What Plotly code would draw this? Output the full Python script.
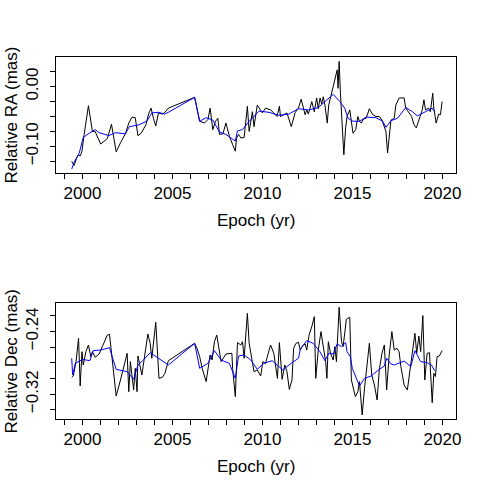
import plotly.graph_objects as go

# relative RA, raw points (yr, mas)
ra_epoch = [1999.40, 1999.53, 1999.67, 1999.78, 1999.87, 1999.97, 2000.09, 2000.33, 2000.55, 2000.70,
            2001.01, 2001.38, 2001.61, 2001.87, 2002.11, 2002.38, 2002.57, 2002.75, 2002.93, 2003.08,
            2003.26, 2003.52, 2003.67, 2003.81, 2003.94, 2004.07, 2004.22, 2004.44, 2004.58, 2004.77,
            2006.23, 2006.51, 2006.78, 2006.97, 2007.09, 2007.24, 2007.39, 2007.52, 2007.61, 2007.80,
            2007.97, 2008.16, 2008.34, 2008.49, 2008.56, 2008.67, 2008.80, 2008.98, 2009.16, 2009.26,
            2009.44, 2009.53, 2009.71, 2009.90, 2009.99, 2010.17, 2010.45, 2010.63, 2010.81, 2010.94,
            2011.00, 2011.18, 2011.36, 2011.60, 2011.82, 2012.00, 2012.15, 2012.37, 2012.46, 2012.55,
            2012.74, 2012.88, 2013.01, 2013.10, 2013.20, 2013.29, 2013.38, 2013.47, 2013.60, 2013.68,
            2013.80, 2013.93, 2014.07, 2014.15, 2014.20, 2014.26, 2014.33, 2014.39, 2014.52, 2014.62,
            2014.70, 2014.85, 2015.03, 2015.18, 2015.30, 2015.39, 2015.49, 2015.62, 2015.76, 2015.94,
            2016.13, 2016.31, 2016.49, 2016.64, 2016.77, 2016.86, 2016.95, 2017.04, 2017.14, 2017.32,
            2017.41, 2017.59, 2017.87, 2017.96, 2018.14, 2018.29, 2018.42, 2018.55, 2018.69, 2018.88,
            2018.97, 2019.06, 2019.24, 2019.33, 2019.46, 2019.52, 2019.65, 2019.79, 2019.89, 2019.98]
ra_mas = [-0.125, -0.132, -0.120, -0.114, -0.116, -0.108, -0.080, -0.032, -0.075, -0.075,
          -0.096, -0.087, -0.063, -0.109, -0.094, -0.079, -0.061, -0.051, -0.052, -0.082,
          -0.078, -0.064, -0.046, -0.036, -0.053, -0.066, -0.044, -0.046, -0.043, -0.036,
          -0.018, -0.058, -0.061, -0.055, -0.036, -0.072, -0.058, -0.053, -0.080, -0.079,
          -0.061, -0.083, -0.097, -0.108, -0.086, -0.080, -0.086, -0.085, -0.033, -0.075,
          -0.042, -0.067, -0.031, -0.039, -0.044, -0.036, -0.039, -0.044, -0.050, -0.033,
          -0.050, -0.047, -0.044, -0.067, -0.043, -0.036, -0.021, -0.047, -0.039, -0.046,
          -0.025, -0.042, -0.019, -0.037, -0.019, -0.029, -0.017, -0.031, -0.061, -0.031,
          -0.015, -0.003, 0.018, 0.028, -0.003, 0.042, -0.010, -0.044, -0.114, -0.069,
          -0.050, -0.039, -0.078, -0.072, -0.050, -0.058, -0.061, -0.054, -0.053, -0.037,
          -0.047, -0.050, -0.050, -0.056, -0.069, -0.075, -0.111, -0.080, -0.056, -0.053,
          -0.031, -0.019, -0.019, -0.036, -0.044, -0.050, -0.064, -0.069, -0.056, -0.039,
          -0.022, -0.039, -0.036, -0.042, -0.011, -0.036, -0.061, -0.046, -0.047, -0.025]

# relative RA, smoothed
ra_smooth_epoch = [1999.40, 1999.54, 1999.82, 2000.04, 2000.37, 2000.70, 2000.92, 2001.47, 2001.83, 2002.38,
                   2002.60, 2003.12, 2003.57, 2003.85, 2004.22, 2004.55, 2004.77, 2006.23, 2006.51, 2006.87,
                   2007.24, 2007.61, 2007.97, 2008.49, 2008.61, 2008.89, 2009.26, 2009.81, 2010.36, 2010.91,
                   2011.46, 2012.00, 2012.55, 2013.10, 2013.47, 2013.75, 2013.93, 2014.30, 2014.57, 2014.75,
                   2015.03, 2015.39, 2015.76, 2016.31, 2016.68, 2016.86, 2017.14, 2017.50, 2017.96, 2018.33,
                   2018.60, 2019.06, 2019.43, 2019.56]
ra_smooth = [-0.138, -0.126, -0.111, -0.085, -0.078, -0.072, -0.077, -0.082, -0.077, -0.079,
             -0.067, -0.064, -0.058, -0.044, -0.043, -0.046, -0.043, -0.018, -0.058, -0.052,
             -0.056, -0.076, -0.080, -0.091, -0.074, -0.072, -0.058, -0.041, -0.043, -0.048,
             -0.046, -0.037, -0.039, -0.035, -0.025, -0.018, -0.013, -0.025, -0.036, -0.053,
             -0.058, -0.058, -0.051, -0.052, -0.058, -0.068, -0.057, -0.053, -0.035, -0.042,
             -0.049, -0.042, -0.036, -0.042]

# relative Dec, raw points
dec_epoch = [1999.40, 1999.49, 1999.64, 1999.78, 1999.87, 1999.97, 2000.04, 2000.19, 2000.33, 2000.46,
             2000.55, 2000.70, 2000.92, 2001.19, 2001.38, 2001.50, 2001.65, 2001.87, 2002.11, 2002.29,
             2002.48, 2002.57, 2002.66, 2002.84, 2002.93, 2003.03, 2003.08, 2003.30, 2003.48, 2003.63,
             2003.76, 2003.85, 2004.07, 2004.25, 2004.44, 2004.58, 2004.77, 2006.23, 2006.36, 2006.51,
             2006.65, 2006.87, 2007.09, 2007.20, 2007.33, 2007.46, 2007.70, 2007.97, 2008.30, 2008.34,
             2008.49, 2008.61, 2008.80, 2008.89, 2008.98, 2009.16, 2009.26, 2009.40, 2009.53, 2009.71,
             2009.90, 2010.02, 2010.17, 2010.32, 2010.45, 2010.63, 2010.72, 2010.83, 2010.94, 2011.09,
             2011.24, 2011.36, 2011.49, 2011.64, 2011.73, 2011.86, 2012.00, 2012.10, 2012.19, 2012.37,
             2012.46, 2012.59, 2012.74, 2012.88, 2012.96, 2013.10, 2013.25, 2013.38, 2013.51, 2013.58,
             2013.66, 2013.78, 2013.93, 2014.02, 2014.11, 2014.26, 2014.39, 2014.48, 2014.57, 2014.66,
             2014.85, 2014.94, 2015.16, 2015.30, 2015.39, 2015.54, 2015.67, 2015.80, 2015.94, 2016.07,
             2016.22, 2016.37, 2016.49, 2016.64, 2016.77, 2016.90, 2017.04, 2017.19, 2017.32, 2017.47,
             2017.59, 2017.69, 2017.87, 2018.05, 2018.24, 2018.36, 2018.47, 2018.57, 2018.69, 2018.79,
             2018.91, 2019.02, 2019.15, 2019.28, 2019.43, 2019.52, 2019.61, 2019.70, 2019.83, 2019.98]
dec_mas = [-0.2984, -0.2967, -0.2784, -0.2487, -0.3094, -0.2657, -0.2827, -0.2657, -0.2572, -0.2721,
           -0.2657, -0.2729, -0.2687, -0.2551, -0.2445, -0.2436, -0.2729, -0.3222, -0.3018, -0.2848,
           -0.2678, -0.3167, -0.2784, -0.3145, -0.2869, -0.3167, -0.2712, -0.2954, -0.2678, -0.2432,
           -0.2551, -0.2742, -0.2283, -0.2997, -0.2984, -0.2933, -0.2772, -0.2551, -0.2614, -0.2721,
           -0.2869, -0.3039, -0.2699, -0.2763, -0.2530, -0.2445, -0.2784, -0.2687, -0.2678, -0.2869,
           -0.3230, -0.2542, -0.2572, -0.2530, -0.2742, -0.2169, -0.2551, -0.2763, -0.2912, -0.2890,
           -0.2967, -0.2784, -0.2806, -0.2678, -0.2572, -0.2678, -0.2827, -0.2997, -0.2542, -0.3009,
           -0.2827, -0.2912, -0.3137, -0.3018, -0.2614, -0.2551, -0.2538, -0.2636, -0.2593, -0.2559,
           -0.2636, -0.2445, -0.2338, -0.2211, -0.2997, -0.2636, -0.2402, -0.2593, -0.2784, -0.2997,
           -0.2530, -0.2678, -0.2763, -0.2593, -0.2784, -0.2092, -0.2530, -0.2593, -0.2423, -0.2245,
           -0.2219, -0.3018, -0.3230, -0.3167, -0.3039, -0.3464, -0.3124, -0.2827, -0.2551, -0.2954,
           -0.3082, -0.3273, -0.2890, -0.2678, -0.2572, -0.3145, -0.2699, -0.2402, -0.2636, -0.2614,
           -0.2657, -0.2848, -0.3082, -0.3145, -0.2827, -0.2657, -0.2423, -0.2678, -0.2457, -0.2657,
           -0.2197, -0.3018, -0.2678, -0.2670, -0.3308, -0.2933, -0.2975, -0.2721, -0.2712, -0.2644]

# relative Dec, smoothed
dec_smooth_epoch = [1999.40, 1999.45, 1999.60, 2000.00, 2000.41, 2000.59, 2001.01, 2001.50, 2001.65, 2001.87,
                    2002.48, 2002.66, 2002.84, 2003.08, 2003.39, 2003.76, 2004.22, 2004.77, 2006.23, 2006.51,
                    2006.97, 2007.33, 2007.70, 2008.16, 2008.49, 2008.67, 2008.98, 2009.35, 2009.71, 2010.08,
                    2010.54, 2011.13, 2011.64, 2012.00, 2012.10, 2012.46, 2012.82, 2013.19, 2013.47, 2013.69,
                    2013.93, 2014.15, 2014.39, 2014.62, 2014.70, 2014.88, 2014.99, 2015.21, 2015.39, 2015.67,
                    2016.04, 2016.40, 2016.77, 2016.90, 2017.14, 2017.32, 2017.87, 2018.24, 2018.47, 2018.79,
                    2019.15, 2019.39, 2019.56]
dec_smooth = [-0.2742, -0.2954, -0.2806, -0.2755, -0.2772, -0.2644, -0.2636, -0.2606, -0.2721, -0.2882,
              -0.2912, -0.2967, -0.3009, -0.2827, -0.2763, -0.2670, -0.2742, -0.2827, -0.2551, -0.2869,
              -0.2806, -0.2644, -0.2763, -0.2806, -0.2997, -0.2712, -0.2699, -0.2763, -0.2882, -0.2806,
              -0.2772, -0.2890, -0.2797, -0.2742, -0.2627, -0.2517, -0.2551, -0.2657, -0.2772, -0.2678,
              -0.2687, -0.2559, -0.2593, -0.2542, -0.2657, -0.2721, -0.2869, -0.2997, -0.3094, -0.2997,
              -0.2967, -0.2899, -0.2840, -0.2742, -0.2814, -0.2827, -0.2776, -0.2848, -0.2644, -0.2784,
              -0.2797, -0.2827, -0.2899]

year_ticks = [2000, 2005, 2010, 2015, 2020]
year_minor = list(range(1999, 2021))
ra_ticks = [-0.10, 0.00]
ra_minor = [-0.125, -0.10, -0.075, -0.05, -0.025, 0.0, 0.025]
dec_ticks = [-0.32, -0.24]
dec_minor = [-0.34, -0.32, -0.30, -0.28, -0.26, -0.24, -0.22]

W = H = 491
FONT = dict(family="Liberation Sans, Arial, sans-serif", size=17, color="black")

fig = go.Figure()
fig.add_trace(go.Scatter(x=ra_epoch, y=ra_mas, mode="lines", line=dict(color="black", width=1),
                         xaxis="x", yaxis="y"))
fig.add_trace(go.Scatter(x=ra_smooth_epoch, y=ra_smooth, mode="lines", line=dict(color="#0000ff", width=1),
                         xaxis="x", yaxis="y"))
fig.add_trace(go.Scatter(x=dec_epoch, y=dec_mas, mode="lines", line=dict(color="black", width=1),
                         xaxis="x2", yaxis="y2"))
fig.add_trace(go.Scatter(x=dec_smooth_epoch, y=dec_smooth, mode="lines", line=dict(color="#0000ff", width=1),
                         xaxis="x2", yaxis="y2"))


def px_x(p):
    return p / W


def px_y(p):
    return 1 - p / H


common = dict(showline=True, linecolor="black", linewidth=1, mirror=True, showgrid=False,
              zeroline=False, ticks="outside", ticklen=5, tickcolor="black", tickwidth=1,
              tickfont=FONT)

xdom = [px_x(57), px_x(461)]
xaxis = dict(common, domain=xdom, range=[1998.55, 2020.77], tickvals=year_ticks,
             minor=dict(tickvals=year_minor, ticks="outside", ticklen=5, tickcolor="black"),
             ticklabelstandoff=0)

fig.update_layout(
    width=W, height=H,
    margin=dict(l=0, r=0, t=0, b=0),
    paper_bgcolor="white", plot_bgcolor="white",
    showlegend=False,
    font=FONT,
    xaxis=dict(xaxis, anchor="y"),
    xaxis2=dict(xaxis, anchor="y2"),
    yaxis=dict(common, domain=[px_y(173), px_y(57)], anchor="x", range=[-0.1445, 0.0495],
               tickvals=ra_ticks, tickformat=".2f", tickangle=-90, ticklabelstandoff=6,
               minor=dict(tickvals=ra_minor, ticks="outside", ticklen=5, tickcolor="black")),
    yaxis2=dict(common, domain=[px_y(419), px_y(303)], anchor="x2", range=[-0.3515, -0.2037],
                tickvals=dec_ticks, tickformat=".2f", tickangle=-90, ticklabelstandoff=6,
                minor=dict(tickvals=dec_minor, ticks="outside", ticklen=5, tickcolor="black")),
)

# axis titles placed where R puts them
for text, x, y, ang in [("Epoch (yr)", 259, 221, 0), ("Epoch (yr)", 259, 466, 0),
                        ("Relative RA (mas)", 0, 115, -90), ("Relative Dec (mas)", 0, 361, -90)]:
    fig.add_annotation(text=text, x=px_x(x), y=px_y(y), xref="paper", yref="paper",
                       xanchor="left" if ang else "center", yanchor="middle", showarrow=False,
                       textangle=ang, font=FONT, borderpad=0)

# drop the browser's default 8px body margin so the figure sits at the window corner
fig.write_html("out.html", config={"displayModeBar": False},
               post_script="document.body.style.margin = '0';")
